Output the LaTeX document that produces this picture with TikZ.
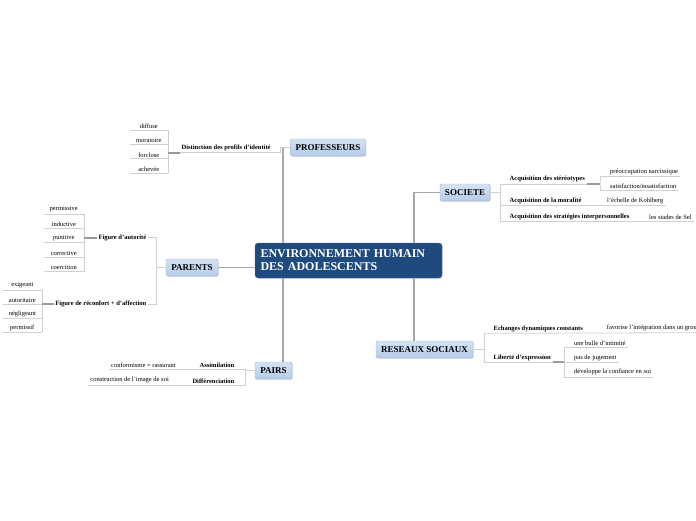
\documentclass[tikz,border=0pt]{standalone}
\usepackage{fontspec}
\setmainfont{Liberation Serif}
\usetikzlibrary{shadows}

\definecolor{rootblue}{HTML}{1F4A7E}
\definecolor{rootborder}{HTML}{5A7CA8}
\definecolor{topictop}{HTML}{D5E3F4}
\definecolor{topicbot}{HTML}{B4CBE7}
\definecolor{topicborder}{HTML}{9DB5D6}
\definecolor{linegray}{HTML}{A8A8A8}
\definecolor{ulgray}{HTML}{D0D0D0}
\definecolor{stubgray}{HTML}{9A9A9A}

\begin{document}
\begin{tikzpicture}[x=1pt,y=-1pt]
  % Define style for topics
  \tikzstyle{root} = [draw=rootborder, rectangle, rounded corners=3pt, fill=rootblue, text=white, font=\fontsize{12}{13}\selectfont\bfseries, text width=176pt, align=left, inner xsep=5.5pt, minimum height=35pt, drop shadow={shadow xshift=.8pt, shadow yshift=-.8pt, opacity=.25}]
  \tikzstyle{topic} = [draw=topicborder, rectangle, rounded corners=2pt, top color=topictop, bottom color=topicbot, minimum height=17pt, inner xsep=4pt, font=\fontsize{9}{10}\selectfont\bfseries, drop shadow={shadow xshift=.8pt, shadow yshift=-.8pt, opacity=.25}]
  \tikzstyle{sub} = [inner xsep=1.5pt, inner ysep=1.5pt, font=\fontsize{6.5}{7}\selectfont\bfseries]
  \tikzstyle{leaf} = [inner xsep=2pt, inner ysep=1.5pt, font=\fontsize{6.5}{7}\selectfont]
  % Define style for lines
  \tikzstyle{trunk} = [draw=linegray, line width=1.5pt]
  \tikzstyle{branch} = [draw=ulgray, line width=1pt]
  \tikzstyle{uline} = [draw=ulgray, line width=.8pt]
  \tikzstyle{stub} = [draw=stubgray, line width=1.8pt]

  \useasboundingbox (0,0) rectangle (696,520);
  \fill[white] (0,0) rectangle (696,520);

  % Main topics
  \node(main)[root] at (348.5,260.5) {ENVIRONNEMENT HUMAIN\\DES ADOLESCENTS};
  \node(prof)[topic, minimum width=75pt] at (328,147.5) {PROFESSEURS};
  \node(soc)[topic, minimum width=50pt] at (465,192.5) {SOCIETE};
  \node(res)[topic, minimum width=97pt] at (424.5,349.5) {RESEAUX SOCIAUX};
  \node(par)[topic, minimum width=52pt] at (192,267.5) {PARENTS};
  \node(pairs)[topic, minimum width=37pt] at (273.5,370.5) {PAIRS};

  \coordinate (lt) at ([xshift=28pt]main.north west);
  \coordinate (lb) at ([xshift=28pt]main.south west);
  \coordinate (rt) at ([xshift=-28pt]main.north east);
  \coordinate (rb) at ([xshift=-28pt]main.south east);
  \draw[trunk] (lt) |- (prof.west);
  \draw[trunk] (lb) -- (lb |- pairs.north);
  \draw[trunk] (rt) |- (soc.west);
  \draw[trunk] (rb) -- (rb |- res.north);
  \draw[trunk] (par.east) -- (par.east -| main.west);

  % Professeurs
  \node(dist)[sub, anchor=south west] at (180,152.7) {Distinction des profils d'identité};
  \draw[branch] (prof.west) -- ++(-10,0) |- (dist.south east) -- (dist.south west);
  \foreach \name/\txt [count=\i] in {diffuse/diffuse,moratoire/moratoire,forclose/forclose,achevee/achevée} {
    \node(\name)[leaf, anchor=south east, minimum width=38pt] at (168,115.6+14.4*\i) {\txt};
    \draw[uline] (\name.south west) -- (\name.south east);
  }
  \draw[uline] (diffuse.south east) -- (achevee.south east);
  \draw[stub] (dist.south west) -- (dist.south west -| forclose.east);

  % Parents
  \node(auto)[sub, anchor=east] at (148,237.7) {Figure d'autorité};
  \node(reconf)[sub, anchor=east] at (148,304.3) {Figure de réconfort + d'affection};
  \draw[branch] (par.west) -- ++(-9.3,0) coordinate(pk) |- (auto.east);
  \draw[branch] (pk) |- (reconf.east);
  \foreach \name/\txt [count=\i] in {permissive/permissive,inductive/inductive,punitive/punitive,corrective/corrective,coercition/coercition} {
    \node(\name)[leaf, anchor=south east, minimum width=40pt] at (84,199.6+14.4*\i) {\txt};
    \draw[uline] (\name.south west) -- (\name.south east);
  }
  \draw[uline] (permissive.south east) -- (coercition.south east);
  \draw[stub] (auto.west) -- (auto.west -| punitive.east);
  \foreach \name/\txt [count=\i] in {exigeant/exigeant,autoritaire/autoritaire,negligeant/négligeant,permissif/permissif} {
    \node(\name)[leaf, anchor=south east, minimum width=39pt] at (42,275.8+14.1*\i) {\txt};
    \draw[uline] (\name.south west) -- (\name.south east);
  }
  \draw[uline] (exigeant.south east) -- (permissif.south east);
  \draw[stub] (reconf.west) -- (reconf.west -| autoritaire.east);

  % Pairs
  \draw[branch] (pairs.west) -- ++(-9.3,0) coordinate(pb);
  \node(assim)[sub, anchor=south east] at (236,369.5) {Assimilation};
  \node(conf)[leaf, anchor=south east] at (178,369.5) {conformisme = rassurant};
  \node(differ)[sub, anchor=south east] at (236,385) {Différenciation};
  \node(constr)[leaf, anchor=south east] at (171,385) {construction de l'image de soi};
  \draw[uline] (conf.south west) -- (conf.south west -| pb) -- (constr.south west -| pb) -- (constr.south west);

  % Societe
  \draw[branch] (soc.east) -- ++(10,0) coordinate(sb);
  \node(stereo)[sub, anchor=south west] at (508,184) {Acquisition des stéréotypes};
  \node(moral)[sub, anchor=south west] at (508,205.7) {Acquisition de la moralité};
  \node(strat)[sub, anchor=south west] at (508,221.7) {Acquisition des stratégies interpersonnelles};
  \draw[uline] (stereo.south -| sb) -- (strat.south -| sb);
  \node(narc)[leaf, anchor=south west] at (608,176.7) {préoccupation narcissique};
  \node(satis)[leaf, anchor=south west] at (608,190.7) {satisfaction/insatisfaction};
  \node(kohl)[leaf, anchor=south west] at (605,205.7) {l'échelle de Kohlberg};
  \node(selman)[leaf, anchor=south west] at (647,221.7) {les stades de Sel};
  \coordinate (sk) at (600,184);
  \draw[uline] (narc.south east) -| (sk) |- (satis.south east);
  \draw[uline] (stereo.south -| sb) -- (stereo.south east);
  \draw[stub] (stereo.south east) -- (sk);
  \draw[uline] (moral.south -| sb) -- (kohl.south east);
  \draw[uline] (strat.south -| sb) -- (selman.south east);

  % Reseaux sociaux
  \draw[branch] (res.east) -- ++(11,0) coordinate(rk);
  \node(echg)[sub, anchor=south west] at (492,333.3) {Echanges dynamiques constants};
  \node(liber)[sub, anchor=south west] at (492,362.3) {Liberté d'expression};
  \node(integ)[leaf, anchor=south west] at (604.7,332.7) {favorise l'intégration dans un grou};
  \draw[uline] (echg.south -| rk) -- (liber.south -| rk);
  \draw[uline] (echg.south -| rk) -- (integ.south east);
  \coordinate (lk) at (564.3,362.3);
  \draw[uline] (liber.south -| rk) -- (liber.south east);
  \draw[stub] (liber.south east) -- (lk);
  \foreach \name/\txt [count=\i] in {bulle/une bulle d'intimité,juge/pas de jugement,confi/développe la confiance en soi} {
    \node(\name)[leaf, anchor=south west] at (572,333.1+14.6*\i) {\txt};
    \draw[uline] (\name.south east) -- (\name.south east -| lk);
  }
  \draw[uline] (bulle.south -| lk) -- (confi.south -| lk);
\end{tikzpicture}
\end{document}
